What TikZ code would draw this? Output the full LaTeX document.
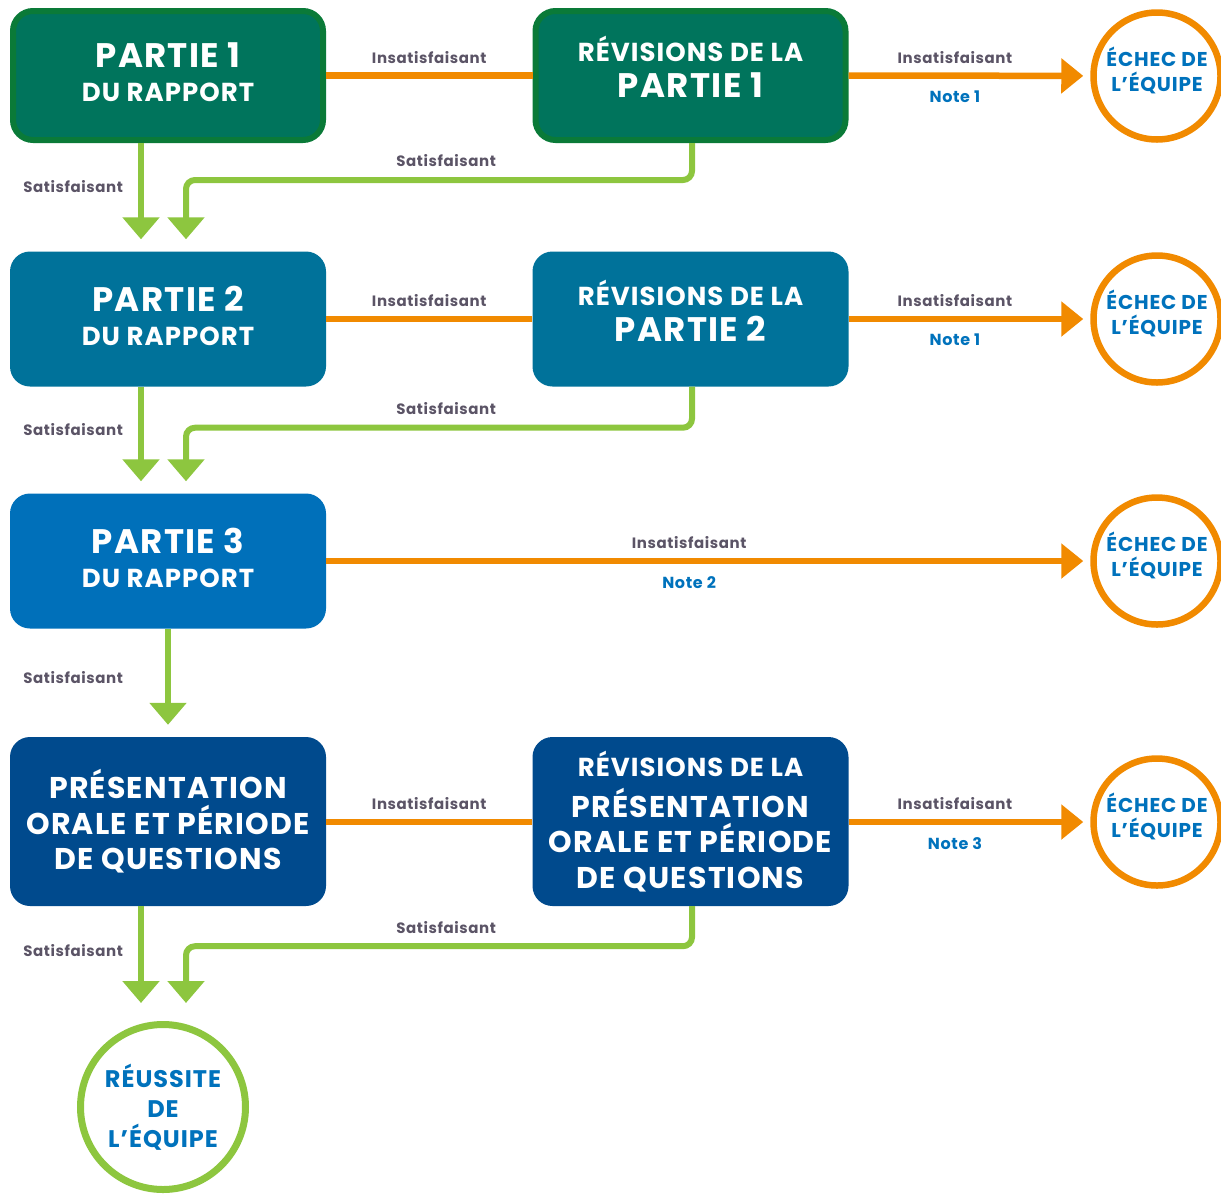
\documentclass[tikz,border=0pt]{standalone}
\usepackage{fontspec}
\setmainfont{Poppins}[LetterSpace=4]
\usetikzlibrary{arrows.meta,positioning}

\definecolor{vertfonce}{HTML}{00745C}
\definecolor{vertbord}{HTML}{0A7A38}
\definecolor{sarcelle}{HTML}{00729A}
\definecolor{bleumoyen}{HTML}{0070BA}
\definecolor{bleufonce}{HTML}{004A8D}
\definecolor{orange}{HTML}{F18A00}
\definecolor{vertclair}{HTML}{8DC63F}
\definecolor{grislabel}{HTML}{5B5466}
\definecolor{bleunote}{HTML}{0072BC}

\newcommand{\tgrand}{\fontsize{34}{34}\selectfont}
\newcommand{\tpetit}{\fontsize{26}{30}\selectfont}

\begin{document}
\begin{tikzpicture}[x=1pt, y=-1pt,
  etape/.style={rounded corners=20pt, minimum width=316pt, minimum height=135pt,
    text=white, align=center, font=\bfseries\tgrand, inner sep=0pt},
  presentation/.style={etape, fill=bleufonce, minimum height=169pt,
    font=\bfseries\fontsize{30}{35.5}\selectfont},
  echec/.style={circle, draw=orange, line width=6.5pt, minimum size=127pt,
    text=bleunote, align=center, font=\bfseries\fontsize{20}{25}\selectfont, inner sep=0pt},
  rate/.style={draw=orange, line width=6.5pt},
  ratefleche/.style={rate, -{Triangle[width=34pt,length=22pt]}, shorten >=7pt},
  ok/.style={draw=vertclair, line width=6pt, rounded corners=9pt,
    -{Triangle[width=36pt,length=22pt]}, shorten >=12pt},
  lbl/.style={text=grislabel, font=\bfseries\fontsize{15}{18}\selectfont, inner sep=0pt},
  note/.style={text=bleunote, font=\bfseries\fontsize{16}{18}\selectfont, inner sep=0pt}]

  \useasboundingbox (0,0) rectangle (1221,1195);

  % etapes du rapport
  \node[etape, fill=vertfonce, draw=vertbord, line width=6pt, minimum width=310pt, minimum height=129pt]
    (p1) at (168,75.5) {PARTIE 1\\{\tpetit DU RAPPORT}\\[-27pt]\mbox{}};
  \node[etape, fill=vertfonce, draw=vertbord, line width=6pt, minimum width=310pt, minimum height=129pt,
    font=\bfseries\fontsize{34}{36}\selectfont]
    (r1) at (690.5,75.5) {{\tpetit RÉVISIONS DE LA}\\PARTIE 1\\[-19pt]\mbox{}};
  \node[etape, fill=sarcelle] (p2) at (168,319) {PARTIE 2\\{\tpetit DU RAPPORT}\\[-27pt]\mbox{}};
  \node[etape, fill=sarcelle, font=\bfseries\fontsize{34}{36}\selectfont]
    (r2) at (690.5,319) {{\tpetit RÉVISIONS DE LA}\\PARTIE 2\\[-19pt]\mbox{}};
  \node[etape, fill=bleumoyen] (p3) at (168,561) {PARTIE 3\\{\tpetit DU RAPPORT}\\[-27pt]\mbox{}};
  \node[presentation] (p4) at (168,821.5) {PRÉSENTATION\\ORALE ET PÉRIODE\\DE QUESTIONS};
  \node[presentation] (r4) at (690.5,821.5)
    {{\tpetit RÉVISIONS DE LA}\\[5.5pt]PRÉSENTATION\\ORALE ET PÉRIODE\\DE QUESTIONS};

  % issues
  \node[echec] (e1) at (1157,76) {ÉCHEC DE\\L’ÉQUIPE\\[-12pt]\mbox{}};
  \node[echec] (e2) at (1157,319) {ÉCHEC DE\\L’ÉQUIPE\\[-12pt]\mbox{}};
  \node[echec] (e3) at (1157,561) {ÉCHEC DE\\L’ÉQUIPE\\[-12pt]\mbox{}};
  \node[echec] (e4) at (1157,822) {ÉCHEC DE\\L’ÉQUIPE\\[-12pt]\mbox{}};
  \node[echec, draw=vertclair, line width=7pt, minimum size=165pt,
    font=\bfseries\fontsize{24}{30}\selectfont] (reussite) at (163,1107) {RÉUSSITE\\DE\\L’ÉQUIPE};

  % insatisfaisant
  \draw[rate] (p1.east) -- node[lbl, above=9pt]{Insatisfaisant} (r1.west);
  \draw[ratefleche] (r1.east) -- node[lbl, pos=0.44, above=9pt]{Insatisfaisant}
    node[note, pos=0.44, below=12pt]{Note 1} (e1);
  \draw[rate] (p2.east) -- node[lbl, above=9pt]{Insatisfaisant} (r2.west);
  \draw[ratefleche] (r2.east) -- node[lbl, pos=0.44, above=9pt]{Insatisfaisant}
    node[note, pos=0.44, below=12pt]{Note 1} (e2);
  \draw[ratefleche] (p3.east) -- node[lbl, pos=0.475, above=9pt]{Insatisfaisant}
    node[note, pos=0.475, below=12pt]{Note 2} (e3);
  \draw[rate] ([yshift=-0.5pt]p4.east) -- node[lbl, above=9pt]{Insatisfaisant} ([yshift=-0.5pt]r4.west);
  \draw[ratefleche] ([yshift=-0.5pt]r4.east) -- node[lbl, pos=0.44, above=9pt]{Insatisfaisant}
    node[note, pos=0.44, below=12pt]{Note 3} (e4);

  % satisfaisant
  \draw[ok] ([xshift=-27pt]p1.south) -- node[lbl, pos=0.4, left=15pt]{Satisfaisant} ([xshift=-27pt]p2.north);
  \draw[ok] ([xshift=1.5pt]r1.south) -- ++(0,37) -| node[lbl, pos=0.243, above=10pt]{Satisfaisant}
    ([xshift=18pt]p2.north);
  \draw[ok] ([xshift=-27pt]p2.south) -- node[lbl, pos=0.4, left=15pt]{Satisfaisant} ([xshift=-27pt]p3.north);
  \draw[ok] ([xshift=1.5pt]r2.south) -- ++(0,41) -| node[lbl, pos=0.243, above=10pt]{Satisfaisant}
    ([xshift=18pt]p3.north);
  \draw[ok] (p3.south) -- node[lbl, pos=0.45, left=42pt]{Satisfaisant} (p4.north);
  \draw[ok, shorten >=18pt] ([xshift=-27pt]p4.south) -- node[lbl, pos=0.39, left=15pt]{Satisfaisant}
    ([xshift=-22pt]reussite.north);
  \draw[ok, shorten >=18pt] ([xshift=1.5pt]r4.south) -- ++(0,40) -| node[lbl, pos=0.243, above=10pt]{Satisfaisant}
    ([xshift=23pt]reussite.north);
\end{tikzpicture}
\end{document}
